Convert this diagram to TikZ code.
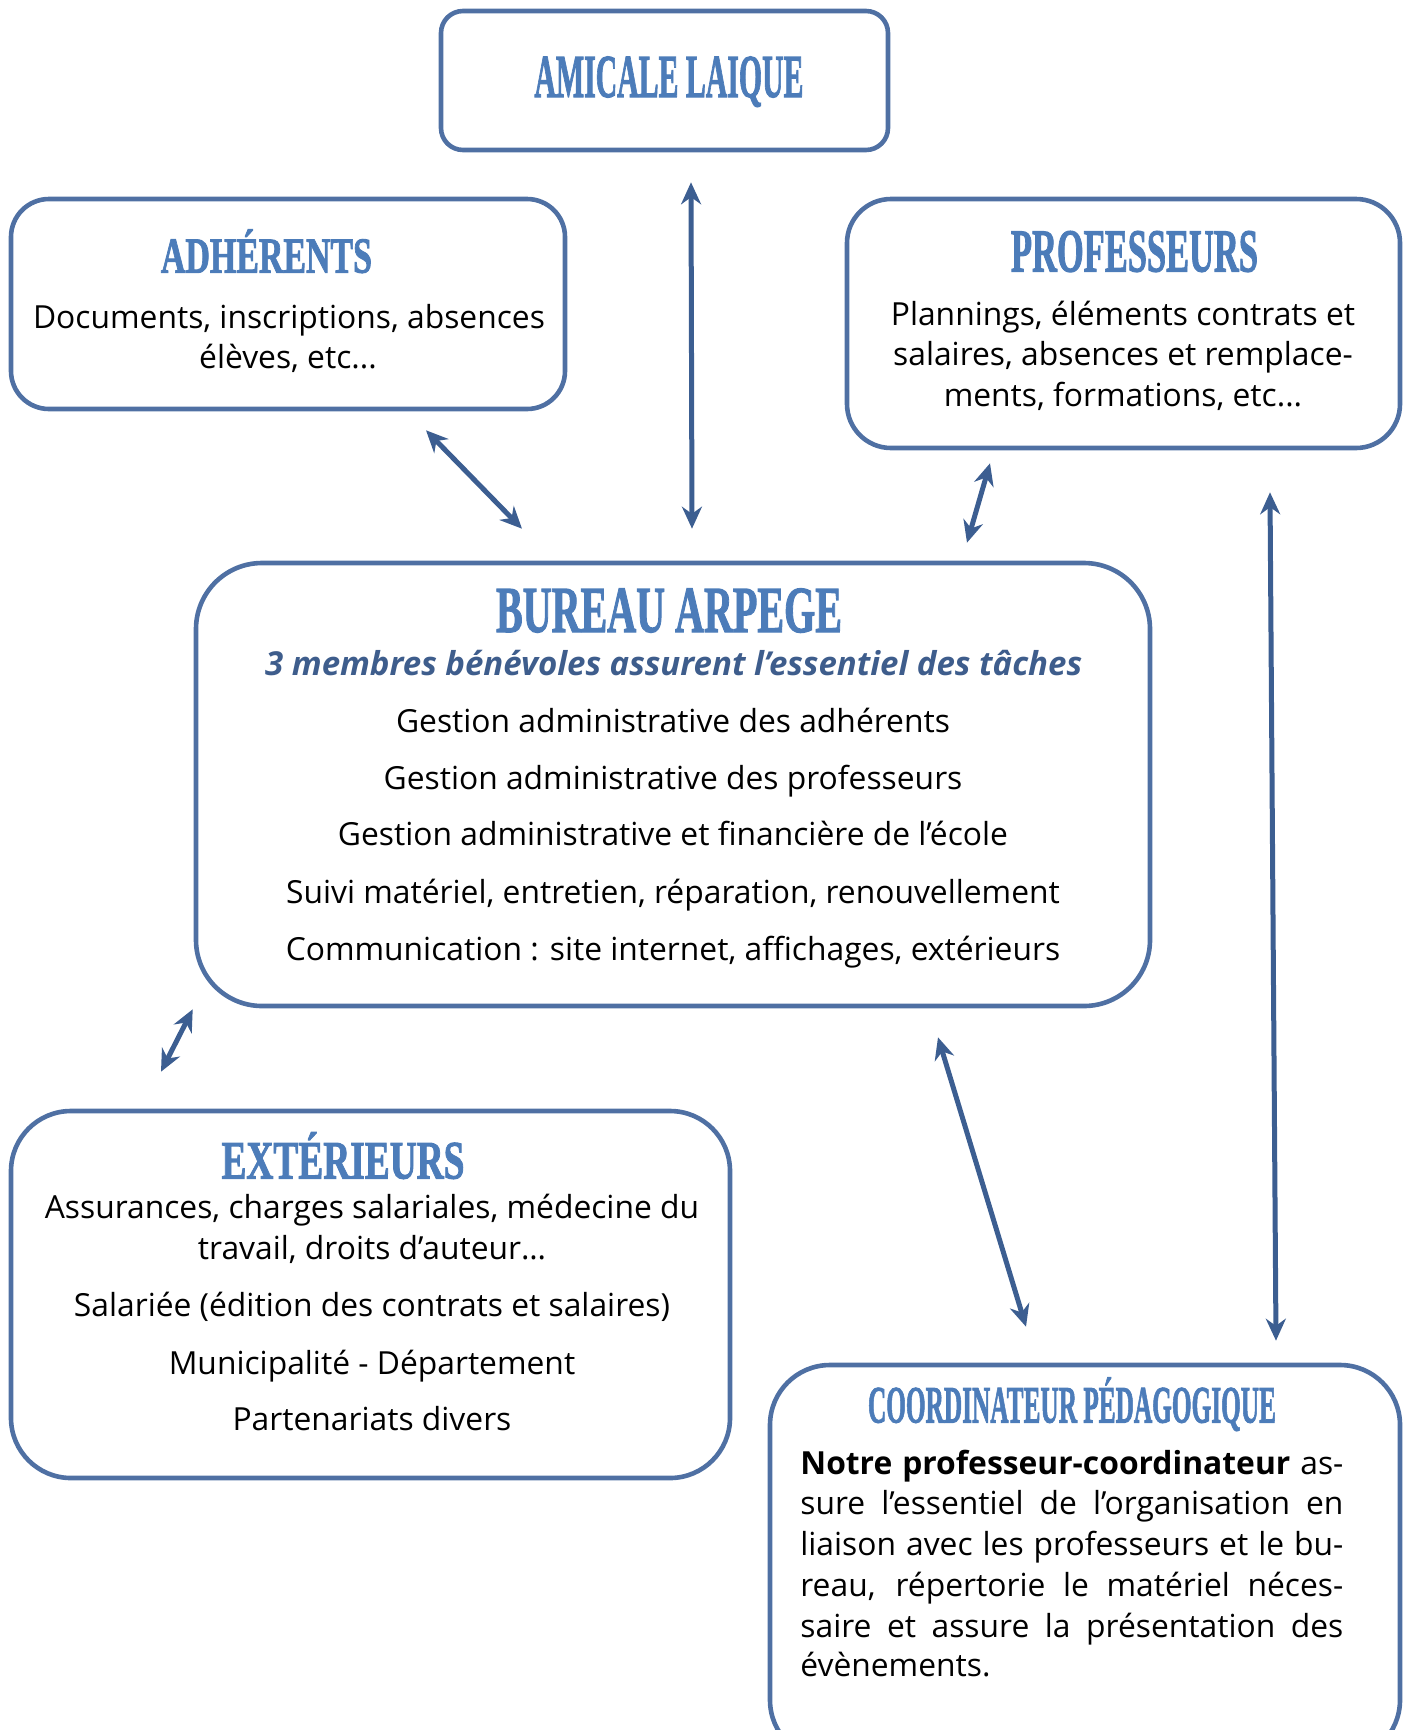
\documentclass[tikz,border=0pt]{standalone}
\usepackage{fontspec}
\usepackage{graphicx}
\setmainfont{Open Sans}
\newfontfamily\titlefont[BoldFeatures={FakeBold=2}]{Liberation Serif}
\usetikzlibrary{arrows.meta,calc}

\definecolor{cadrebleu}{RGB}{79,112,163}
\definecolor{flechebleu}{RGB}{60,94,145}
\definecolor{titrebleu}{RGB}{76,124,185}
\definecolor{soustitrebleu}{RGB}{62,93,140}

% titre : largeur, hauteur des capitales, texte
\newcommand\titre[3]{\resizebox{#1}{#2}{\titlefont\bfseries\raisebox{0pt}[\fontcharht\font`H][0pt]{#3}}}

\begin{document}
\begin{tikzpicture}[x=0.5pt,y=-0.5pt,
	boite/.style={draw=cadrebleu, line width=2.3pt, rectangle, inner sep=0pt},
	titre/.style={anchor=base, inner sep=0pt, text=titrebleu},
	ligne/.style={anchor=base, inner sep=0pt, font=\fontsize{15.9}{20}\selectfont},
	fleche/.style={draw=flechebleu, line width=2.5pt,
		{Stealth[length=11pt,width=10pt]}-{Stealth[length=11pt,width=10pt]}}]
	\useasboundingbox (0,0) rectangle (1407,1730);
	\clip (0,0) rectangle (1407,1730);

	% cadres
	\node[boite, minimum width=223.5pt, minimum height=69.5pt, rounded corners=11pt] (amicale) at (664.5,80.5) {};
	\node[boite, minimum width=277pt, minimum height=105pt, rounded corners=19pt] (adherents) at (288,304) {};
	\node[boite, minimum width=276.5pt, minimum height=124.5pt, rounded corners=22pt] (professeurs) at (1123.5,323.5) {};
	\node[boite, minimum width=477pt, minimum height=221.5pt, rounded corners=33pt] (bureau) at (673,784.5) {};
	\node[boite, minimum width=359.5pt, minimum height=183.5pt, rounded corners=30pt] (exterieurs) at (370.5,1294.5) {};
	\node[boite, minimum width=315pt, minimum height=197.5pt, rounded corners=30pt] (coordinateur) at (1085,1562.5) {};

	% titres
	\node[titre] (t-amicale) at (669,97) {\titre{134.5pt}{20pt}{AMICALE LAIQUE}};
	\node[titre] (t-adherents) at (266.5,272.6) {\titre{105.5pt}{16.5pt}{ADHÉRENTS}};
	\node[titre] (t-professeurs) at (1134.5,271.5) {\titre{123.5pt}{20pt}{PROFESSEURS}};
	\node[titre] (t-bureau) at (669,632) {\titre{173pt}{21.5pt}{BUREAU ARPEGE}};
	\node[titre] (t-exterieurs) at (343,1178.5) {\titre{121.5pt}{17.7pt}{EXTÉRIEURS}};
	\node[titre] (t-coordinateur) at (1072,1422.5) {\titre{204pt}{17.2pt}{COORDINATEUR PÉDAGOGIQUE}};

	% adherents
	\node[ligne] (adh1) at (289,328) {Documents, inscriptions, absences};
	\node[ligne] (adh2) at (288,368.6) {élèves, etc...};

	% professeurs
	\node[ligne] (prof1) at (1123,325) {Plannings, éléments contrats et};
	\node[ligne] (prof2) at (1123,365) {salaires, absences et remplace-};
	\node[ligne] (prof3) at (1123,406) {ments, formations, etc...};

	% bureau
	\node[ligne, text=soustitrebleu, font=\fontsize{16.5}{20}\selectfont\bfseries\itshape] (bur0) at (673.7,675)
		{3 membres bénévoles assurent l’essentiel des tâches};
	\node[ligne] (bur1) at (673,732) {Gestion administrative des adhérents};
	\node[ligne] (bur2) at (673,789) {Gestion administrative des professeurs};
	\node[ligne] (bur3) at (673,845) {Gestion administrative et financière de l’école};
	\node[ligne] (bur4) at (673,903) {Suivi matériel, entretien, réparation, renouvellement};
	\node[ligne] (bur5) at (673,960) {Communication : site internet, affichages, extérieurs};

	% exterieurs
	\node[ligne] (ext1) at (372,1218) {Assurances, charges salariales, médecine du};
	\node[ligne] (ext2) at (372,1259) {travail, droits d’auteur…};
	\node[ligne] (ext3) at (372,1316.5) {Salariée (édition des contrats et salaires)};
	\node[ligne] (ext4) at (372,1374) {Municipalité - Département};
	\node[ligne] (ext5) at (372,1430) {Partenariats divers};

	% coordinateur
	\node[ligne, anchor=base west] (coo1) at (800,1474) {\makebox[271.5pt][s]{\textbf{Notre professeur-coordinateur} as-}};
	\node[ligne, anchor=base west] (coo2) at (800,1514) {\makebox[271.5pt][s]{sure l’essentiel de l’organisation en}};
	\node[ligne, anchor=base west] (coo3) at (800,1555) {\makebox[271.5pt][s]{liaison avec les professeurs et le bu-}};
	\node[ligne, anchor=base west] (coo4) at (800,1596) {\makebox[271.5pt][s]{reau, répertorie le matériel néces-}};
	\node[ligne, anchor=base west] (coo5) at (800,1637) {\makebox[271.5pt][s]{saire et assure la présentation des}};
	\node[ligne, anchor=base west] (coo6) at (800,1676) {évènements.};

	% liaisons
	\draw[fleche] ($(amicale.south)+(26.5,30)$) -- ($(bureau.north)+(19,-32)$);
	\draw[fleche] ($(adherents.south)+(138,19)$) -- ($(bureau.north)+(-151,-32)$);
	\draw[fleche] ($(professeurs.south)+(-133.5,13)$) -- ($(bureau.north)+(294,-18)$);
	\draw[fleche] ($(professeurs.south)+(146.5,42)$) -- ($(coordinateur.north)+(191,-22)$);
	\draw[fleche] ($(bureau.south west)+(-1,1)$) -- ($(exterieurs.north)+(-209.5,-37)$);
	\draw[fleche] ($(bureau.south)+(265,29)$) -- ($(coordinateur.north)+(-59,-36)$);
\end{tikzpicture}
\end{document}
